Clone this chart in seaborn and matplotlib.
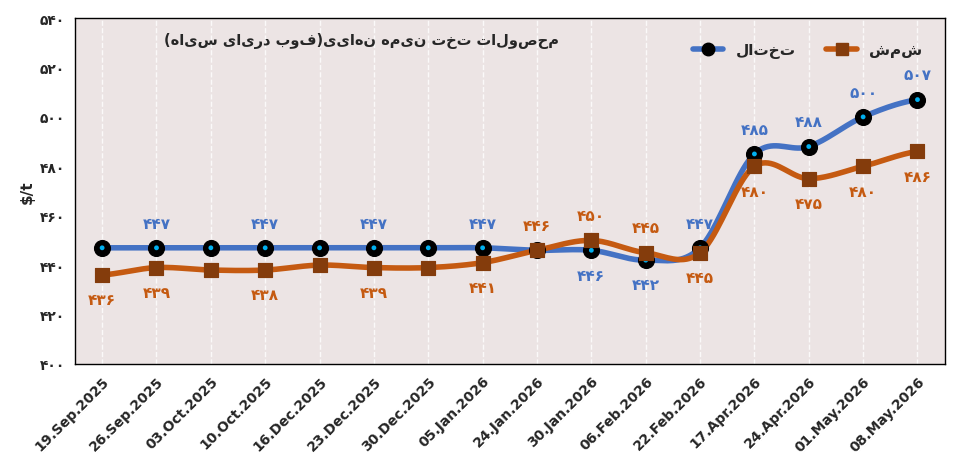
import numpy as np
import pandas as pd
import matplotlib
matplotlib.use('Agg')
import matplotlib.pyplot as plt
import seaborn as sns
from matplotlib.lines import Line2D

dates = ['19.Sep.2025', '26.Sep.2025', '03.Oct.2025', '10.Oct.2025', '16.Dec.2025',
         '23.Dec.2025', '30.Dec.2025', '05.Jan.2026', '24.Jan.2026', '30.Jan.2026',
         '06.Feb.2026', '22.Feb.2026', '17.Apr.2026', '24.Apr.2026', '01.May.2026',
         '08.May.2026']
slab = [447, 447, 447, 447, 447, 447, 447, 447, 446, 446, 442, 447, 485, 488, 500, 507]
billet = [436, 439, 438, 438, 440, 439, 439, 441, 446, 450, 445, 445, 480, 475, 480, 486]
slab_name = 'تختال'
billet_name = 'شمش'
title = 'محصولات تخت نیمه نهایی(فوب دریای سیاه)'
# which points get a label, and where (1 above, -1 below)
slab_lab = {1: 1, 3: 1, 5: 1, 7: 1, 9: -1, 10: -1, 11: 1, 12: 1, 13: 1, 14: 1, 15: 1}
billet_lab = {0: -1, 1: -1, 3: -1, 5: -1, 7: -1, 8: 1, 9: 1, 10: 1, 11: -1,
              12: -1, 13: -1, 14: -1, 15: -1}

BLUE = '#4472C4'
ORANGE = '#C55A11'
FA = str.maketrans('0123456789', '۰۱۲۳۴۵۶۷۸۹')

def fa(v):
    return str(v).translate(FA)

def rtl(s):
    # visual order for right-to-left text, with mirrored brackets
    return s[::-1].translate(str.maketrans('()', ')('))

def smooth(y, n=20):
    # catmull-rom curve through the points, only for drawing the line
    p = np.concatenate([[y[0]], y, [y[-1]]]).astype(float)
    xs, ys = [], []
    for i in range(1, len(p) - 2):
        t = np.linspace(0, 1, n, endpoint=False)
        p0, p1, p2, p3 = p[i - 1], p[i], p[i + 1], p[i + 2]
        yy = 0.5 * (2 * p1 + (-p0 + p2) * t + (2 * p0 - 5 * p1 + 4 * p2 - p3) * t ** 2
                    + (-p0 + 3 * p1 - 3 * p2 + p3) * t ** 3)
        xs.extend(i - 1 + t)
        ys.extend(yy)
    xs.append(len(y) - 1)
    ys.append(y[-1])
    return np.array(xs), np.array(ys)

sns.set_style('white')
plt.rcParams['font.family'] = ['DejaVu Sans']

fig = plt.figure(figsize=(9.61, 4.77), dpi=100)
ax = fig.add_axes([0.078, 0.235, 0.905, 0.725])
ax.set_facecolor('#ECE4E4')

x = np.arange(len(dates))
for vals, col in [(slab, BLUE), (billet, ORANGE)]:
    sx, sy = smooth(vals)
    sns.lineplot(x=sx, y=sy, ax=ax, color=col, lw=4, zorder=3, sort=False)

df = pd.DataFrame({'x': x, 'slab': slab, 'billet': billet})
sns.scatterplot(data=df, x='x', y='slab', ax=ax, s=130, color='black', edgecolor='black',
                zorder=4)
sns.scatterplot(data=df, x='x', y='slab', ax=ax, s=12, color='#00B0F0', edgecolor='none',
                zorder=5)
sns.scatterplot(data=df, x='x', y='billet', ax=ax, s=110, marker='s', color='#843C0C',
                edgecolor='#843C0C', zorder=6)

for i, d in slab_lab.items():
    ax.text(x[i], slab[i] + d * 7, fa(slab[i]), color=BLUE, ha='center',
            va='bottom' if d > 0 else 'top', fontsize=11, fontweight='bold')
for i, d in billet_lab.items():
    ax.text(x[i], billet[i] + d * 7, fa(billet[i]), color=ORANGE, ha='center',
            va='bottom' if d > 0 else 'top', fontsize=11, fontweight='bold')

ax.set_xlim(-0.5, len(dates) - 0.5)
ax.set_ylim(400, 540)
ax.set_yticks(range(400, 541, 20))
ax.set_yticklabels([fa(v) for v in range(400, 541, 20)], fontsize=10, fontweight='bold')
ax.set_xticks(x)
ax.set_xticklabels(dates, rotation=45, ha='right', rotation_mode='anchor',
                   fontsize=10, fontweight='bold')
ax.set_xlabel('')
ax.set_ylabel('$/t', fontsize=11, fontweight='bold')
ax.xaxis.grid(True, color='white', lw=1, ls='--', alpha=0.8)
for s in ax.spines.values():
    s.set_color('black')
    s.set_linewidth(1)

ax.text(0.33, 0.925, rtl(title), transform=ax.transAxes, ha='center',
        fontsize=10.5, fontweight='bold')
handles = [Line2D([], [], color=BLUE, lw=4, marker='o', ms=9, mfc='black', mec='black'),
           Line2D([], [], color=ORANGE, lw=4, marker='s', ms=8, mfc='#843C0C', mec='#843C0C')]
ax.legend(handles, [rtl(slab_name), rtl(billet_name)], loc='upper right', ncol=2,
          frameon=False, bbox_to_anchor=(0.99, 0.97), prop={'weight': 'bold', 'size': 11})

fig.savefig('out.png', dpi=100)
